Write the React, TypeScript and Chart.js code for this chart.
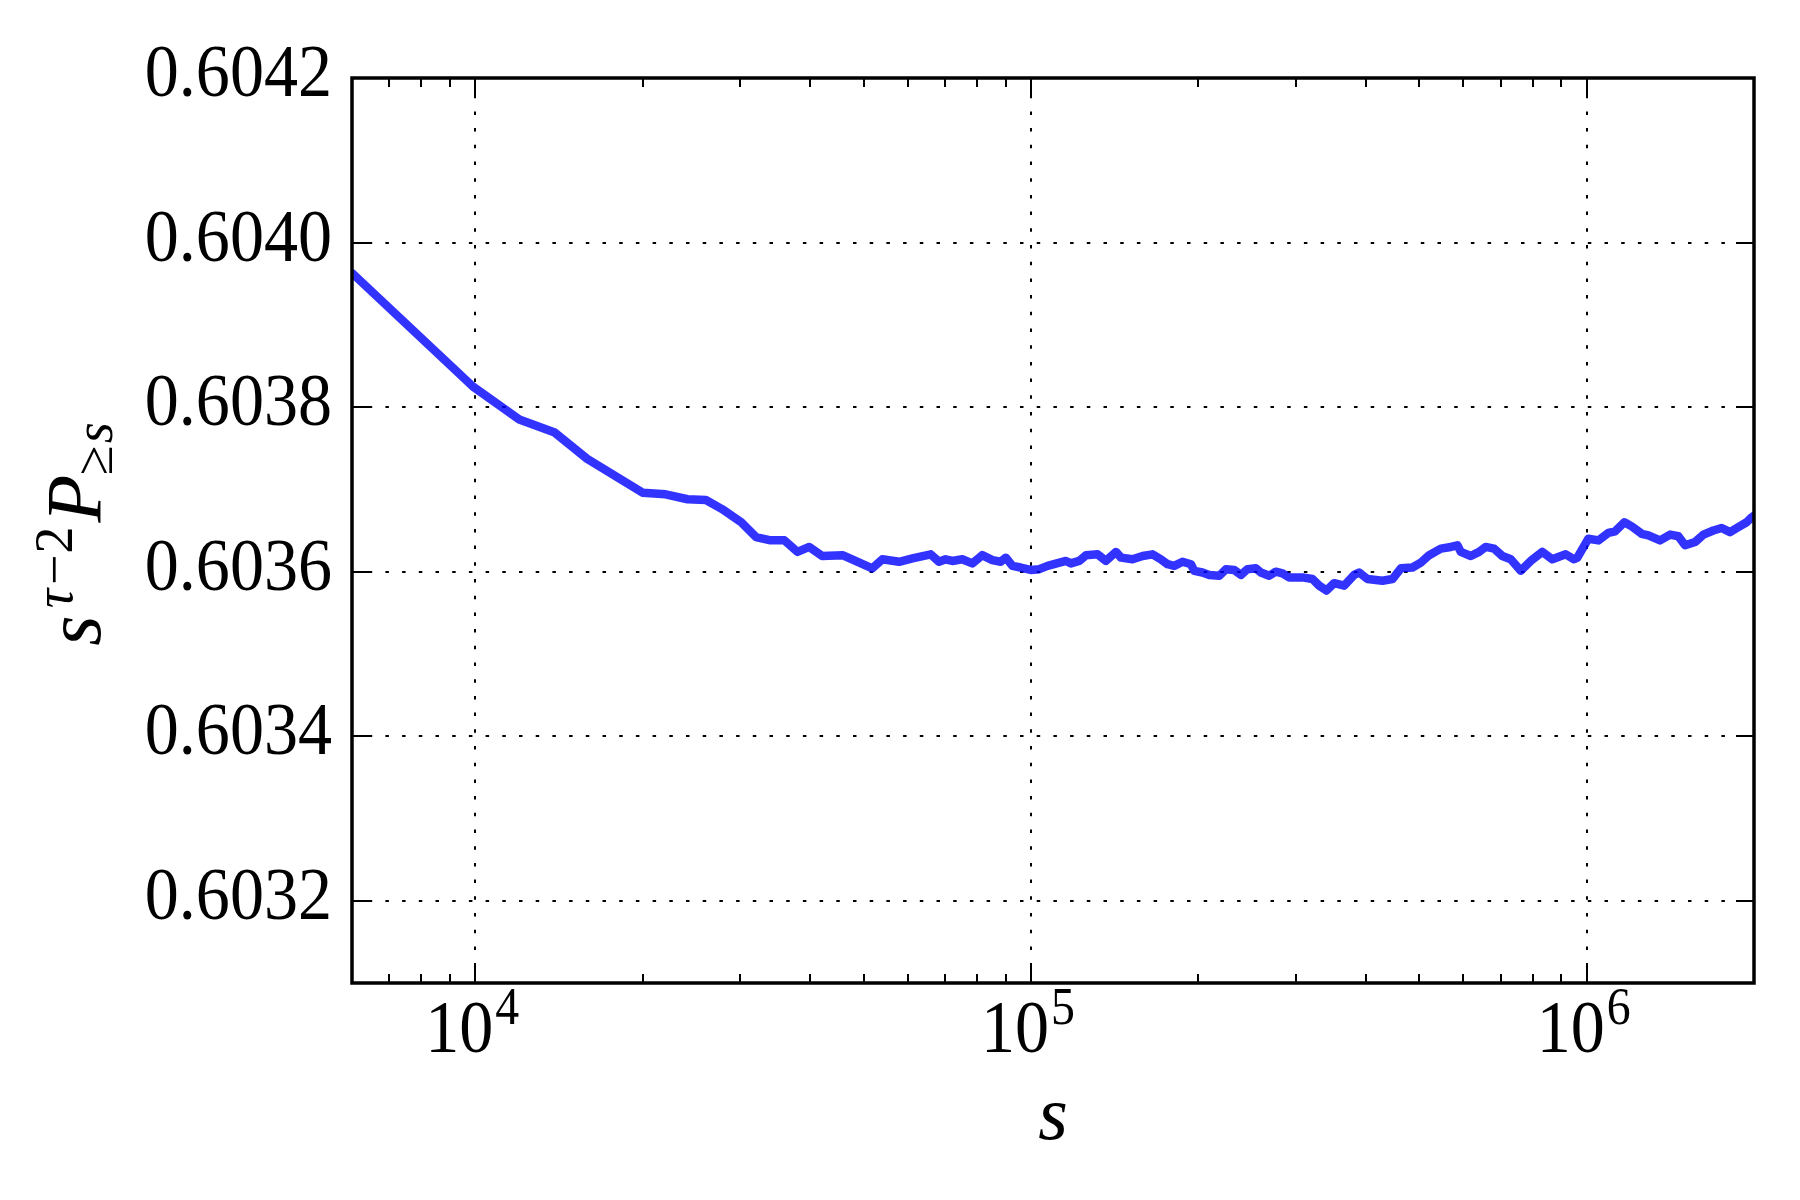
import React, { useEffect, useRef } from "react";
import { Chart, registerables } from "chart.js";

Chart.register(...registerables);

// cluster size s (x) and rescaled survival probability s^(tau-2) P(>=s) (y)
const sValues = [
  6000, 9900, 12000, 13900, 15900, 20000, 22000, 24100, 26000, 27800,
  30100, 32000, 34000, 36000, 38000, 39900, 42100, 45800, 51800, 54000,
  57900, 61200, 66000, 68300, 70200, 72200, 75200, 78400, 81700, 85200,
  88200, 90100, 92600, 95800, 99900, 103500, 107100, 115600, 118000, 122100,
  125600, 131800, 136400, 142200, 145200, 152300, 158800, 165500, 171300, 176100,
  181000, 187400, 194000, 196700, 203500, 209300, 218200, 224300, 232100, 238600,
  245200, 253900, 259200, 268300, 275800, 283500, 291400, 308000, 321000, 330000,
  340200, 351200, 366100, 381600, 389500, 403100, 429000, 447100, 463000, 485700,
  502900, 520600, 546400, 569400, 585200, 593500, 618600, 640200, 658100, 681200,
  705000, 730000, 760800, 792900, 832000, 867200, 916700, 948900, 961900, 1007000,
  1050000, 1094000, 1125000, 1169000, 1205000, 1256000, 1291000, 1355000, 1413000, 1462000,
  1503000, 1567000, 1622000, 1690000, 1749000, 1811000, 1874000, 1940000, 1981000, 2000000,
];

const ratioValues = [
  0.603963, 0.603825, 0.603785, 0.603769, 0.603737, 0.603696, 0.603694, 0.603688, 0.603687, 0.603676,
  0.60366, 0.603642, 0.603638, 0.603638, 0.603624, 0.60363, 0.603619, 0.60362, 0.603604, 0.603615,
  0.603612, 0.603616, 0.603621, 0.603612, 0.603615, 0.603613, 0.603615, 0.60361, 0.60362, 0.603614,
  0.603612, 0.603617, 0.603607, 0.603605, 0.603602, 0.603603, 0.603607, 0.603613, 0.60361, 0.603613,
  0.60362, 0.603621, 0.603613, 0.603624, 0.603617, 0.603615, 0.603619, 0.603621, 0.603615, 0.603609,
  0.603607, 0.603612, 0.603609, 0.603601, 0.603599, 0.603596, 0.603595, 0.603603, 0.603602, 0.603596,
  0.603603, 0.603604, 0.603599, 0.603595, 0.6036, 0.603598, 0.603593, 0.603593, 0.603591, 0.603583,
  0.603577, 0.603586, 0.603583, 0.603596, 0.603599, 0.603591, 0.603589, 0.603591, 0.603604, 0.603605,
  0.603611, 0.60362, 0.603628, 0.60363, 0.603632, 0.603624, 0.603619, 0.603624, 0.60363, 0.603628,
  0.603619, 0.603615, 0.603601, 0.603613, 0.603624, 0.603615, 0.603621, 0.603615, 0.603617, 0.60364,
  0.603638, 0.603647, 0.603649, 0.60366, 0.603655, 0.603646, 0.603644, 0.603638, 0.603645, 0.603643,
  0.603632, 0.603636, 0.603645, 0.60365, 0.603653, 0.603648, 0.603654, 0.60366, 0.603666, 0.603668,
];

const yTickValues = [0.6032, 0.6034, 0.6036, 0.6038, 0.604, 0.6042];
const yTickLabels = ["0.6032", "0.6034", "0.6036", "0.6038", "0.6040", "0.6042"];
const xTickValues = [1e4, 1e5, 1e6];
const xTickBase = "10";
const xTickExponents = ["4", "5", "6"];
const xMin = 6000;
const xMax = 2e6;
const yMin = 0.6031;
const yMax = 0.6042;

const SERIF = '"Liberation Serif", "DejaVu Serif", serif';
const SX = 0.92; // horizontal squeeze to mimic tall Computer Modern digits

function drawSqueezed(ctx: CanvasRenderingContext2D, text: string, x: number, y: number, font: string, align: CanvasTextAlign) {
  ctx.save();
  ctx.translate(x, y);
  ctx.scale(SX, 1);
  ctx.font = font;
  ctx.textAlign = align;
  ctx.textBaseline = "alphabetic";
  ctx.fillText(text, 0, 0);
  ctx.restore();
}

const framePlugin = {
  id: "framePlugin",
  afterDraw(chart: any) {
    const { ctx, chartArea } = chart;
    const { left, right, top, bottom } = chartArea;
    const xs = chart.scales.x;
    const ys = chart.scales.y;
    ctx.save();
    ctx.strokeStyle = "#000";
    ctx.fillStyle = "#000";
    ctx.lineWidth = 2;
    ctx.setLineDash([]);

    // major ticks (inward, all four sides)
    const majorLen = 18;
    const minorLen = 9;
    ctx.beginPath();
    xTickValues.forEach((v) => {
      const px = Math.round(xs.getPixelForValue(v));
      ctx.moveTo(px, bottom);
      ctx.lineTo(px, bottom - majorLen);
      ctx.moveTo(px, top);
      ctx.lineTo(px, top + majorLen);
    });
    yTickValues.forEach((v) => {
      const py = Math.round(ys.getPixelForValue(v));
      ctx.moveTo(left, py);
      ctx.lineTo(left + majorLen, py);
      ctx.moveTo(right, py);
      ctx.lineTo(right - majorLen, py);
    });
    // minor log ticks
    [1e3, 1e4, 1e5, 1e6].forEach((d) => {
      for (let m = 2; m <= 9; m++) {
        const v = m * d;
        if (v <= xMin || v >= xMax) continue;
        const px = Math.round(xs.getPixelForValue(v));
        ctx.moveTo(px, bottom);
        ctx.lineTo(px, bottom - minorLen);
        ctx.moveTo(px, top);
        ctx.lineTo(px, top + minorLen);
      }
    });
    ctx.stroke();

    // frame
    ctx.lineWidth = 3.5;
    ctx.strokeRect(left, top, right - left, bottom - top);

    // y tick labels
    yTickValues.forEach((v, i) => {
      const py = ys.getPixelForValue(v);
      drawSqueezed(ctx, yTickLabels[i], left - 20, py + 18, `74px ${SERIF}`, "right");
    });

    // x tick labels: 10^n
    xTickValues.forEach((v, i) => {
      const px = xs.getPixelForValue(v);
      ctx.font = `74px ${SERIF}`;
      const w1 = ctx.measureText(xTickBase).width * SX;
      ctx.font = `52px ${SERIF}`;
      const w2 = ctx.measureText(xTickExponents[i]).width * SX;
      const start = px - (w1 + w2 + 2) / 2 - 3;
      drawSqueezed(ctx, xTickBase, start, 1052, `74px ${SERIF}`, "left");
      drawSqueezed(ctx, xTickExponents[i], start + w1 + 2, 1024, `52px ${SERIF}`, "left");
    });

    // x axis title
    ctx.font = `italic 76px ${SERIF}`;
    ctx.textAlign = "center";
    ctx.textBaseline = "alphabetic";
    ctx.fillText("s", (left + right) / 2, 1139);

    // y axis title: s^{tau-2} P_{>=s}
    const main = `italic 78px ${SERIF}`;
    const supI = `italic 54px ${SERIF}`;
    const supR = `54px ${SERIF}`;
    const parts: { t: string; f: string; dy: number; gap: number }[] = [
      { t: "s", f: main, dy: 0, gap: 7 },
      { t: "\u03C4", f: supI, dy: -28, gap: 4 },
      { t: "\u2212", f: supR, dy: -28, gap: 1 },
      { t: "2", f: supR, dy: -28, gap: 4 },
      { t: "P", f: main, dy: 0, gap: 0 },
      { t: "\u2265", f: supR, dy: 12, gap: 2 },
      { t: "s", f: supI, dy: 12, gap: 0 },
    ];
    let total = 0;
    const widths = parts.map((p) => {
      ctx.font = p.f;
      const w = ctx.measureText(p.t).width;
      total += w + p.gap;
      return w;
    });
    ctx.translate(100, 534);
    ctx.rotate(-Math.PI / 2);
    ctx.textAlign = "left";
    let u = -total / 2;
    parts.forEach((p, i) => {
      ctx.font = p.f;
      ctx.fillText(p.t, u, p.dy);
      u += widths[i] + p.gap;
    });

    ctx.restore();
  },
};

export default function App() {
  const ref = useRef<HTMLCanvasElement>(null);
  useEffect(() => {
    document.body.style.margin = "0";
    const canvas = ref.current!;
    const chart = new Chart(canvas, {
      type: "line",
      data: {
        datasets: [
          {
            data: sValues.map((s, i) => ({ x: s, y: ratioValues[i] })),
            borderColor: "rgba(0,0,255,0.8)",
            borderWidth: 8.5,
            pointRadius: 0,
            tension: 0,
            fill: false,
            borderJoinStyle: "round",
            borderCapStyle: "round",
            clip: 0,
          } as any,
        ],
      },
      options: {
        responsive: false,
        animation: false,
        devicePixelRatio: 1,
        layout: { padding: { left: 352, top: 78, right: 46, bottom: 217 } },
        plugins: { legend: { display: false }, tooltip: { enabled: false } },
        scales: {
          x: {
            type: "logarithmic",
            min: xMin,
            max: xMax,
            afterBuildTicks: (sc: any) => {
              sc.ticks = xTickValues.map((v) => ({ value: v }));
            },
            ticks: { display: false },
            grid: { color: "#000", lineWidth: 2, drawTicks: false },
            border: { display: false, dash: [3.5, 13.2] },
          },
          y: {
            type: "linear",
            min: yMin,
            max: yMax,
            afterBuildTicks: (sc: any) => {
              sc.ticks = yTickValues.map((v) => ({ value: v }));
            },
            ticks: { display: false },
            grid: { color: "#000", lineWidth: 2, drawTicks: false },
            border: { display: false, dash: [3.5, 13.2] },
          },
        },
      } as any,
      plugins: [framePlugin],
    });
    return () => chart.destroy();
  }, []);
  return (
    <div style={{ width: 1800, height: 1200, background: "#fff" }}>
      <canvas ref={ref} width={1800} height={1200} style={{ display: "block" }} />
    </div>
  );
}
